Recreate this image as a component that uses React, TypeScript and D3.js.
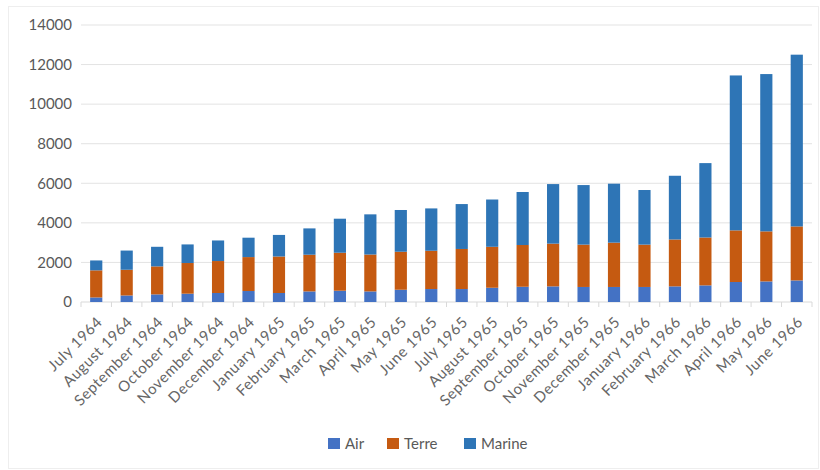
import React from "react";
import * as d3 from "d3";

const categories = [
  "July 1964", "August 1964", "September 1964", "October 1964", "November 1964", "December 1964",
  "January 1965", "February 1965", "March 1965", "April 1965", "May 1965", "June 1965",
  "July 1965", "August 1965", "September 1965", "October 1965", "November 1965", "December 1965",
  "January 1966", "February 1966", "March 1966", "April 1966", "May 1966", "June 1966",
];
const air = [230, 330, 385, 420, 455, 555, 455, 535, 570, 535, 620, 655, 655, 720, 770, 790, 760, 760, 760, 790, 840, 1010, 1040, 1090];
const terre = [1370, 1300, 1415, 1550, 1615, 1715, 1845, 1855, 1920, 1865, 1920, 1935, 2025, 2070, 2110, 2160, 2140, 2240, 2140, 2370, 2420, 2610, 2530, 2730];
const marine = [500, 970, 990, 940, 1040, 980, 1090, 1330, 1720, 2030, 2110, 2140, 2270, 2390, 2680, 3010, 3010, 2980, 2760, 3220, 3760, 7830, 7950, 8680];
const yTicks = [0, 2000, 4000, 6000, 8000, 10000, 12000, 14000];
const seriesNames = ["Air", "Terre", "Marine"];
const colors = ["#4472C4", "#C55A11", "#2E75B6"];

const W = 820, H = 470;
const plot = { left: 81, right: 812, top: 25, bottom: 302 };

export default function App() {
  const x = d3.scaleBand<string>().domain(categories).range([plot.left, plot.right]).paddingInner(0.6).paddingOuter(0.3);
  const y = d3.scaleLinear().domain([0, 14000]).range([plot.bottom, plot.top]);
  const rows = categories.map((c, i) => ({ cat: c, Air: air[i], Terre: terre[i], Marine: marine[i] }));
  const stack = d3.stack<any>().keys(seriesNames)(rows);
  const font = "Lato, 'Open Sans', sans-serif";
  const legendX = [328, 387, 464];
  const boundary = (plot.right - plot.left) / categories.length;

  return (
    <svg width={W} height={H} style={{ position: "absolute", left: 0, top: 0 }}>
      <rect x={0} y={0} width={W} height={H} fill="#fff" />
      <rect x={8.5} y={6.5} width={W - 10} height={H - 8} fill="none" stroke="#eeeeee" />
      {yTicks.map((t) => (
        <g key={t}>
          {t > 0 && <line x1={plot.left} x2={plot.right} y1={y(t)} y2={y(t)} stroke="#e3e3e3" strokeWidth={1} />}
          <text x={72} y={y(t)} dy="0.35em" textAnchor="end" fontSize={15} fill="#595959" fontFamily={font}>{t}</text>
        </g>
      ))}
      <line x1={plot.left} x2={plot.right} y1={y(0)} y2={y(0)} stroke="#d9d9d9" />
      {d3.range(categories.length + 1).map((i) => {
        const xx = plot.left + i * boundary;
        return <line key={i} x1={xx} x2={xx} y1={y(0)} y2={y(0) + 5} stroke="#d9d9d9" />;
      })}
      {stack.map((s, si) => (
        <g key={s.key} fill={colors[si]}>
          {s.map((d, i) => (
            <rect key={i} x={x(categories[i])} width={x.bandwidth()} y={y(d[1])} height={y(d[0]) - y(d[1])} />
          ))}
        </g>
      ))}
      {categories.map((c) => {
        const cx = (x(c) as number) + x.bandwidth() / 2 + 7;
        const cy = 323;
        return (
          <text key={c} x={cx} y={cy} textAnchor="end" fontSize={15} letterSpacing={0.6} fill="#666666" fontFamily={font} transform={`rotate(-45, ${cx}, ${cy})`}>{c}</text>
        );
      })}
      {seriesNames.map((n, i) => (
        <g key={n}>
          <rect x={legendX[i]} y={438} width={12} height={11} fill={colors[i]} />
          <text x={legendX[i] + 17} y={444} dy="0.35em" fontSize={15} fill="#595959" fontFamily={font}>{n}</text>
        </g>
      ))}
    </svg>
  );
}
